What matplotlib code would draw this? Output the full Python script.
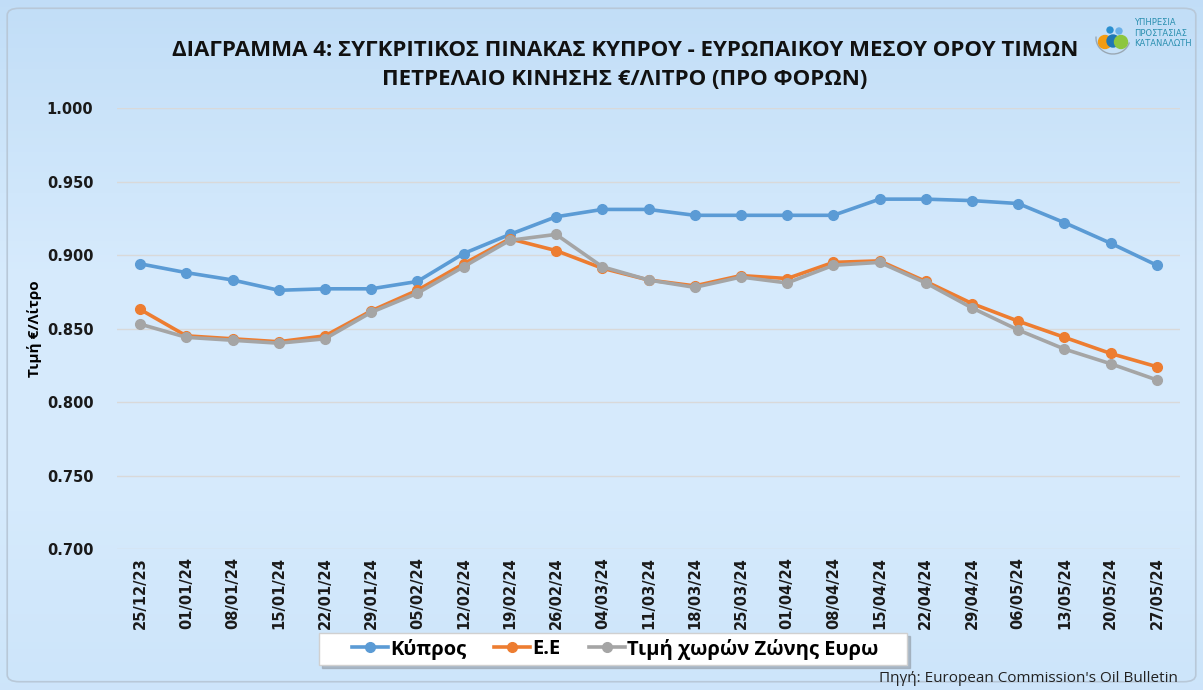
import numpy as np
import matplotlib.pyplot as plt
from matplotlib.patches import FancyBboxPatch, Circle, Arc, Rectangle

# -----------------------------
# Data
# -----------------------------
dates = ["25/12/23", "01/01/24", "08/01/24", "15/01/24", "22/01/24", "29/01/24",
         "05/02/24", "12/02/24", "19/02/24", "26/02/24", "04/03/24", "11/03/24",
         "18/03/24", "25/03/24", "01/04/24", "08/04/24", "15/04/24", "22/04/24",
         "29/04/24", "06/05/24", "13/05/24", "20/05/24", "27/05/24"]

cyprus = [0.894, 0.888, 0.883, 0.876, 0.877, 0.877, 0.882, 0.901, 0.914, 0.926,
          0.931, 0.931, 0.927, 0.927, 0.927, 0.927, 0.938, 0.938, 0.937, 0.935,
          0.922, 0.908, 0.893]
eu = [0.863, 0.845, 0.843, 0.841, 0.845, 0.862, 0.876, 0.894, 0.911, 0.903,
      0.891, 0.883, 0.879, 0.886, 0.884, 0.895, 0.896, 0.882, 0.867, 0.855,
      0.844, 0.833, 0.824]
eurozone = [0.853, 0.844, 0.842, 0.840, 0.843, 0.861, 0.874, 0.892, 0.910, 0.914,
            0.892, 0.883, 0.878, 0.885, 0.881, 0.893, 0.895, 0.881, 0.864, 0.849,
            0.836, 0.826, 0.815]

series_names = ["Κύπρος", "Ε.Ε", "Τιμή χωρών Ζώνης Ευρω"]
series_colors = ["#5B9BD5", "#ED7D31", "#A5A5A5"]

title = ("ΔΙΑΓΡΑΜΜΑ 4: ΣΥΓΚΡΙΤΙΚΟΣ ΠΙΝΑΚΑΣ ΚΥΠΡΟΥ - ΕΥΡΩΠΑΙΚΟΥ ΜΕΣΟΥ ΟΡΟΥ ΤΙΜΩΝ\n"
         "ΠΕΤΡΕΛΑΙΟ ΚΙΝΗΣΗΣ €/ΛΙΤΡΟ (ΠΡΟ ΦΟΡΩΝ)")

# -----------------------------
# Figure & background
# -----------------------------
W, H = 1203, 690
fig = plt.figure(figsize=(W / 100, H / 100), dpi=100)

bg = fig.add_axes([0, 0, 1, 1], zorder=0)
grad = np.concatenate([np.linspace(0, 1, 40), np.ones(30), np.linspace(1, 0.55, 30)])
top = np.array([0.76, 0.87, 0.97])
mid = np.array([0.84, 0.92, 0.99])
cols = top[None, :] * (1 - grad[:, None]) + mid[None, :] * grad[:, None]
bg.imshow(cols[:, None, :], aspect="auto", extent=[0, W, H, 0])
bg.add_patch(FancyBboxPatch((0.006, 0.012), 0.988, 0.976,
                            boxstyle="round,pad=0,rounding_size=0.01",
                            fill=False, ec="#b8c8d8", lw=1.2,
                            transform=bg.transAxes))
# legend box with shadow (drawn by hand for the wider side padding)
bg.add_patch(Rectangle((322, 636), 588, 32, color="#9aa6b2", alpha=0.7))
bg.add_patch(Rectangle((319, 633), 588, 32, fc="white", ec="#d0d0d0", lw=1))
bg.set_xlim(0, W)
bg.set_ylim(H, 0)
bg.axis("off")

# -----------------------------
# Plot
# -----------------------------
ax = fig.add_axes([117 / W, 1 - 549 / H, (1180 - 117) / W, (549 - 108) / H], zorder=1)
ax.patch.set_alpha(0)
x = np.arange(len(dates))
for vals, name, c in zip([cyprus, eu, eurozone], series_names, series_colors):
    ax.plot(x, vals, color=c, lw=2.6, marker="o", ms=7, label=name, zorder=3)

ax.set_xlim(-0.5, len(dates) - 0.5)
ax.set_ylim(0.7, 1.0)
ax.set_yticks(np.arange(0.70, 1.001, 0.05))
ax.set_yticklabels([f"{v:.3f}" for v in np.arange(0.70, 1.001, 0.05)])
ax.set_xticks(x)
ax.set_xticklabels(dates, rotation=90)
ax.grid(axis="y", color="#d9d9d9", lw=1)
ax.set_axisbelow(True)
for s in ax.spines.values():
    s.set_visible(False)
ax.tick_params(length=0)
ax.tick_params(axis="y", pad=17, labelsize=10.5)
ax.tick_params(axis="x", pad=6, labelsize=10.5)
for lab in ax.get_xticklabels() + ax.get_yticklabels():
    lab.set_fontweight("bold")
    lab.set_color("#1a1a1a")

ax.set_ylabel("Τιμή €/Λίτρο", fontsize=11, fontweight="bold",
              family=["Open Sans", "DejaVu Sans"])
ax.yaxis.set_label_coords((42 - 117) / (1180 - 117), 0.5)

# Title
fig.text(625 / W, 1 - 65 / H, title, ha="center", va="center", fontsize=16,
         fontweight="bold", linespacing=1.45, color="#111111",
         family=["Open Sans", "DejaVu Sans"])

# Legend
leg = fig.legend(loc="center", bbox_to_anchor=(615 / W, 1 - 649 / H), ncol=3,
                 frameon=False,
                 prop={"weight": "bold", "size": 14.5, "family": ["Open Sans", "DejaVu Sans"]},
                 handlelength=1.8, columnspacing=1.4, handletextpad=0.1,
                 borderpad=0.3, borderaxespad=0)

# Source
fig.text(1178 / W, 1 - 678 / H, "Πηγή: European Commission's Oil Bulletin",
         ha="right", va="center", fontsize=11, color="#222222",
         family=["Open Sans", "DejaVu Sans"])

# Logo
bg.add_patch(Arc((1113, 38), 34, 32, theta1=15, theta2=185, color="#9aa8b4", lw=1))
for cx, cy, r, c in [(1105, 42, 6.5, "#f39c12"), (1113, 41, 6, "#1f77b4"),
                     (1121, 42, 6.5, "#8dc63f"), (1110, 30, 3, "#2a8fd0"),
                     (1119, 31, 3, "#6ab0e8")]:
    bg.add_patch(Circle((cx, cy), r, color=c))
fig.text(1134 / W, 1 - 33 / H, "ΥΠΗΡΕΣΙΑ\nΠΡΟΣΤΑΣΙΑΣ\nΚΑΤΑΝΑΛΩΤΗ", ha="left", va="center",
         fontsize=6, color="#2a8fb0", linespacing=1.15,
         family=["Liberation Sans Narrow", "DejaVu Sans"])

fig.savefig("out.png", dpi=100)
